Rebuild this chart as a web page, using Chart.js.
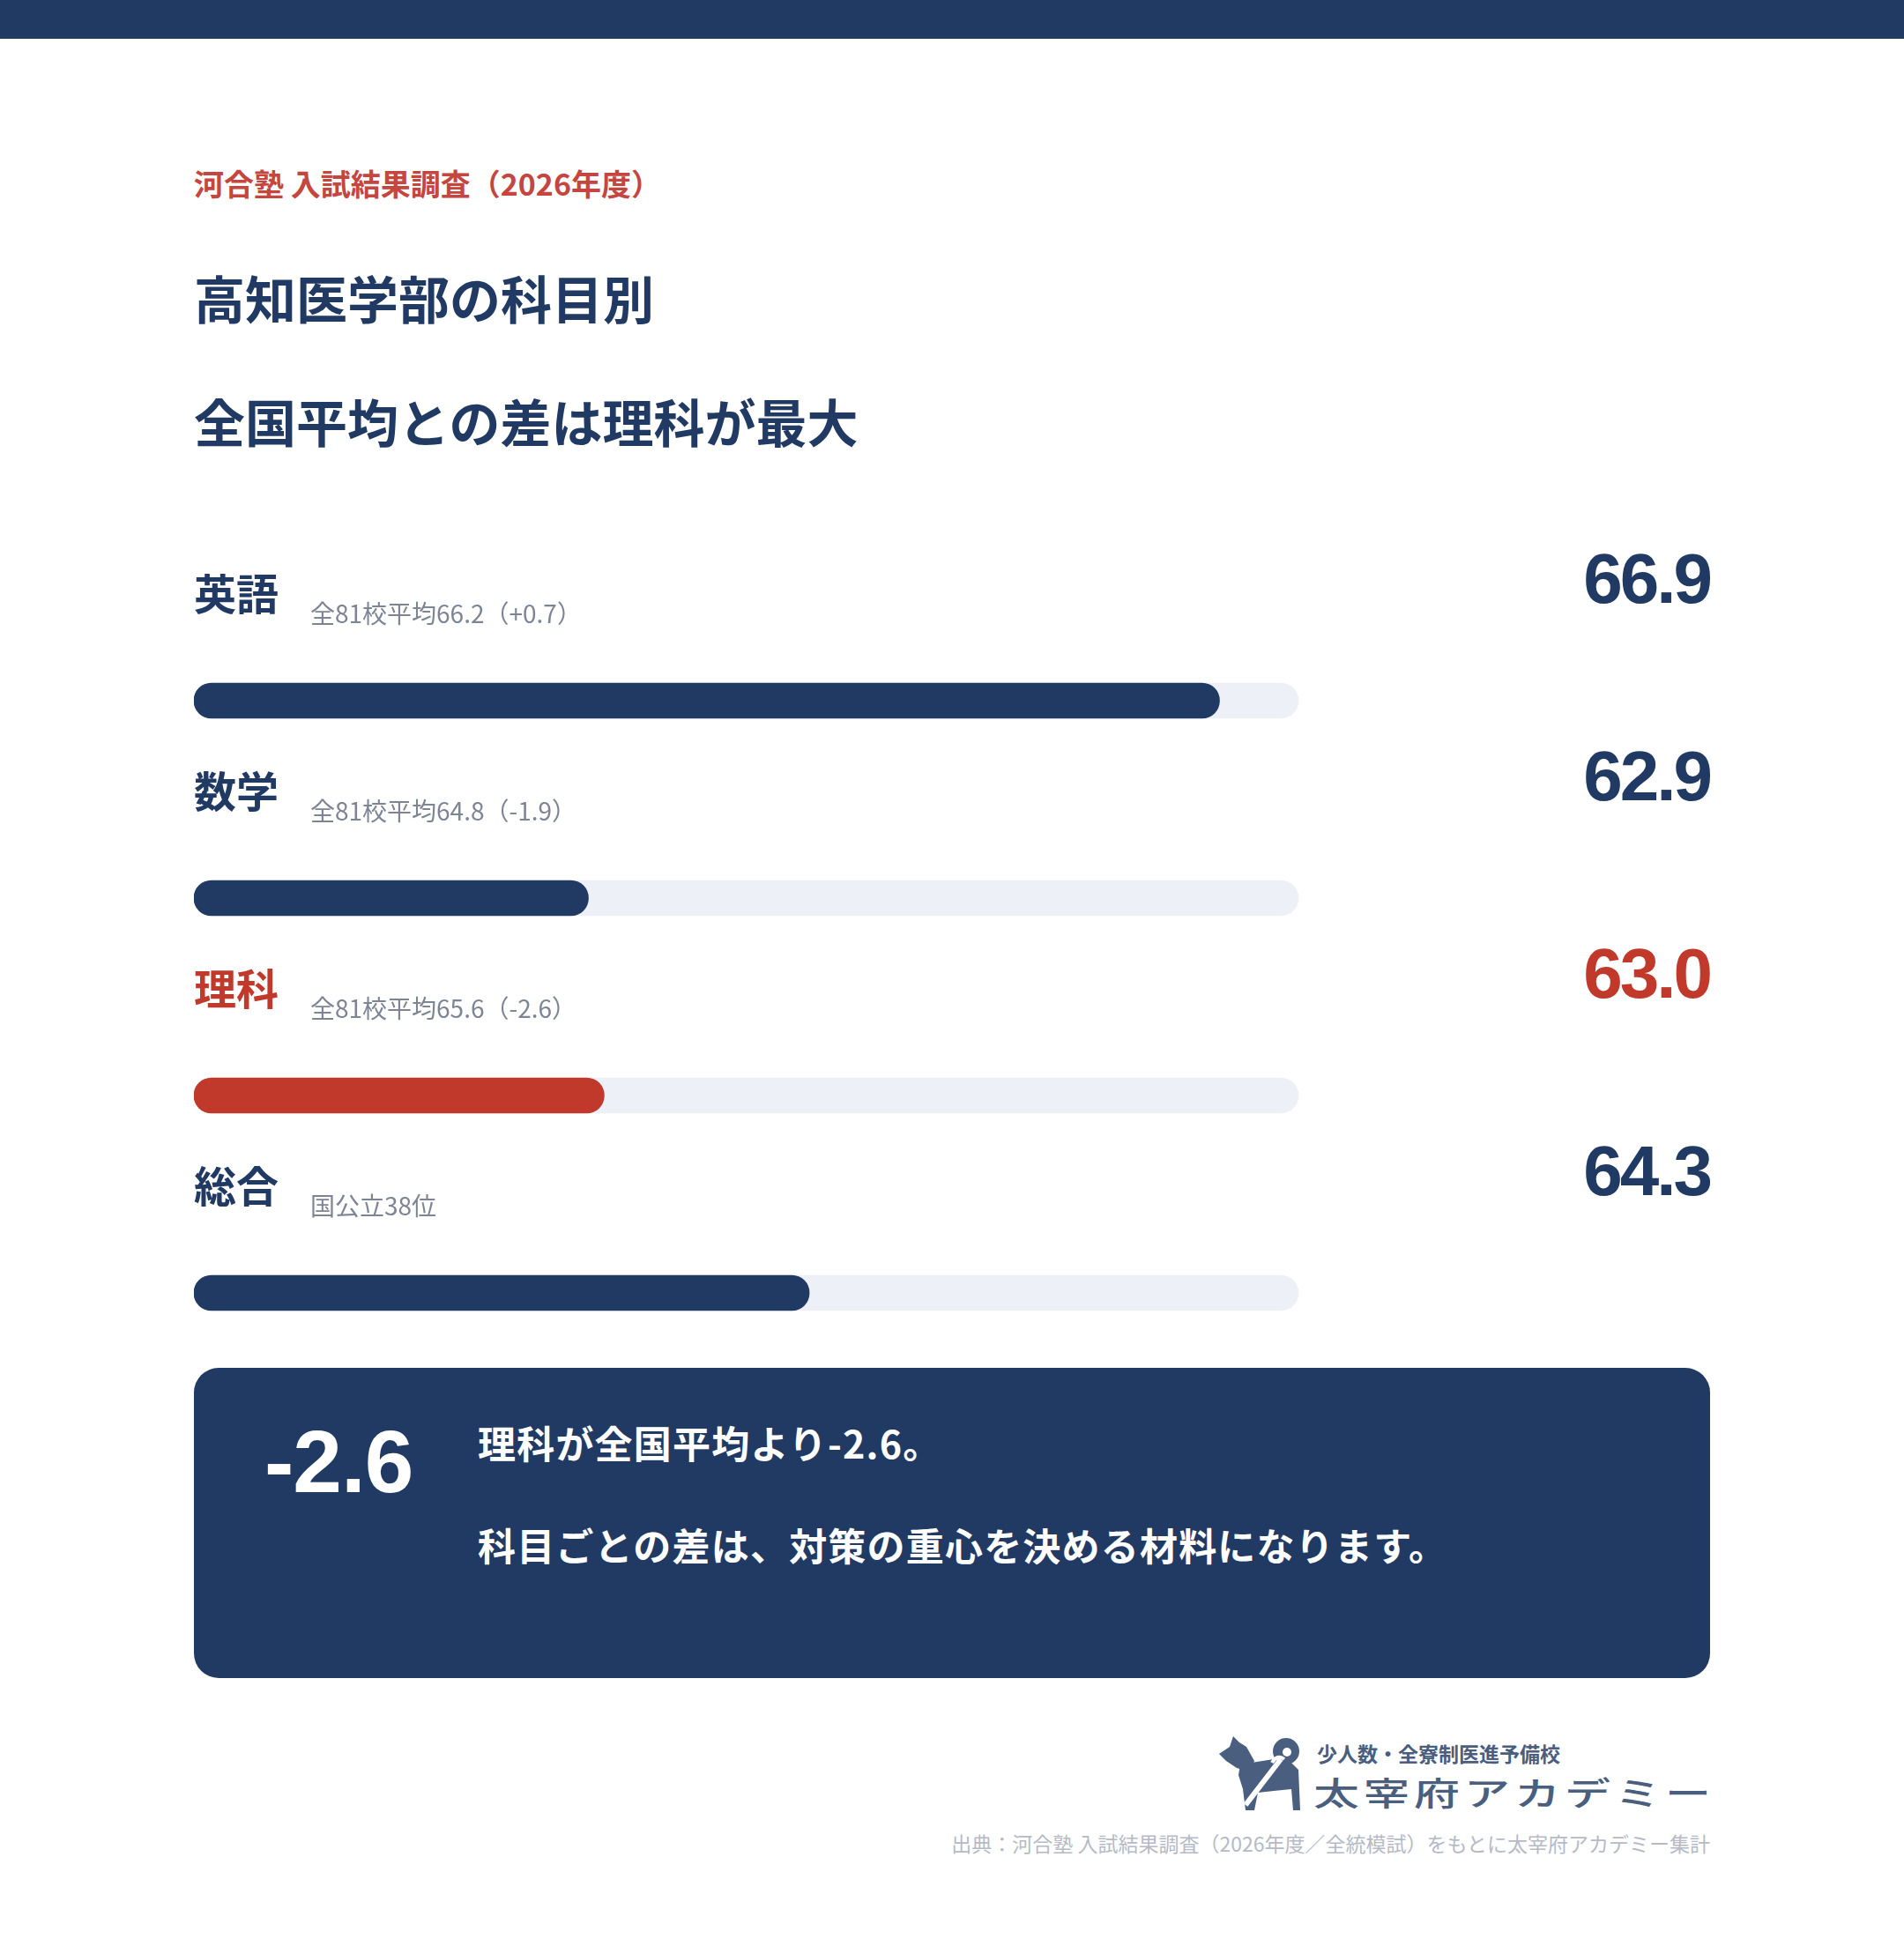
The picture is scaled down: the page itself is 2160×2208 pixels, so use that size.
<!DOCTYPE html>
<html lang="ja">
<head>
<meta charset="utf-8">
<title>高知医学部の科目別</title>
<script src="https://cdn.jsdelivr.net/npm/chart.js@4.4.1/dist/chart.umd.min.js"></script>
<style>
  html, body { margin: 0; padding: 0; background: #ffffff; }
  body { width: 2160px; height: 2208px; position: relative; overflow: hidden;
         font-family: "Noto Sans CJK JP", "Noto Sans", sans-serif; }
  .band { position: absolute; left: 0; top: 0; width: 2160px; height: 44px; background: #213a63; }
  .abs { position: absolute; white-space: nowrap; line-height: 1; }
  .kicker { left: 220px; top: 191px; font-size: 34px; font-weight: 700; color: #c4463f; }
  .title { left: 220px; font-size: 58px; font-weight: 700; color: #213a63; }
  #chartWrap { position: absolute; left: 220px; top: 600px; width: 1720px; height: 900px; }
  .box { position: absolute; left: 220px; top: 1552px; width: 1720px; height: 352px;
         background: #213a63; border-radius: 28px; }
  .box .big { left: 80px; top: 56px; font-family: "Liberation Sans", Arial, sans-serif;
              font-size: 100px; font-weight: 700; color: #fff; letter-spacing: -1px; }
  .box .msg { left: 322px; font-size: 43px; font-weight: 700; color: #fff; letter-spacing: 1.2px; }
  .logo-sub { left: 1494px; top: 1978px; font-size: 23px; font-weight: 700; color: #4a5e80; }
  .logo-main { left: 1490px; top: 2007px; font-size: 52px; font-weight: 500; color: #4a5e80;
               letter-spacing: 5px; transform: scaleY(0.72); transform-origin: 50% 50%; }
  .source { right: 220px; top: 2080px; font-size: 23px; color: #b5bac6; }
  .dog { position: absolute; left: 1383px; top: 1970px; width: 92px; height: 84px; }
</style>
</head>
<body>
<div class="band"></div>
<div class="abs kicker">河合塾 入試結果調査（2026年度）</div>
<div class="abs title" style="top:308px">高知医学部の科目別</div>
<div class="abs title" style="top:448px">全国平均との差は理科が最大</div>

<div id="chartWrap"><canvas id="scoreChart" width="1720" height="900"></canvas></div>

<div class="box">
  <div class="abs big">-2.6</div>
  <div class="abs msg" style="top:63px">理科が全国平均より-2.6。</div>
  <div class="abs msg" style="top:179px">科目ごとの差は、対策の重心を決める材料になります。</div>
</div>

<svg class="dog" viewBox="0 0 92 84">
  <g fill="#4a5e80">
    <polygon points="0,20 12,12 16,0 23,7 31,12 40,28 34,40 20,36 8,28"/>
    <polygon points="24,32 62,26 80,28 90,38 92,84 84,84 82,60 62,62 44,64 40,84 30,84 27,60 22,44"/>
    <circle cx="76" cy="17" r="15"/>
  </g>
  <circle cx="77" cy="18" r="5" fill="#fff"/>
  <line x1="30" y1="78" x2="70" y2="26" stroke="#fff" stroke-width="6"/>
  <path d="M60 30 Q66 20 74 26" stroke="#fff" stroke-width="4" fill="none"/>
</svg>
<div class="abs logo-sub">少人数・全寮制医進予備校</div>
<div class="abs logo-main">太宰府アカデミー</div>
<div class="abs source">出典：河合塾 入試結果調査（2026年度／全統模試）をもとに太宰府アカデミー集計</div>

<script>
// 科目別データ
const subjects = ['英語', '数学', '理科', '総合'];
const scores = [66.9, 62.9, 63.0, 64.3];
const notes = ['全81校平均66.2（+0.7）', '全81校平均64.8（-1.9）', '全81校平均65.6（-2.6）', '国公立38位'];
const highlightIndex = 2; // 理科を強調
const axisMin = 60.4;
const axisMax = 67.4;

const NAVY = '#213a63';
const RED = '#c0392b';
const TRACK = '#edf0f7';

const barColors = subjects.map((s, i) => i === highlightIndex ? RED : NAVY);
const trackData = subjects.map(() => axisMax);

// ラベルと数値を各バーの上に描く
const rowLabels = {
    id: 'rowLabels',
    afterDatasetsDraw(chart) {
        const ctx = chart.ctx;
        const yScale = chart.scales.y;
        const left = chart.chartArea.left;
        const right = chart.width;
        ctx.save();
        subjects.forEach((name, i) => {
            const y = yScale.getPixelForValue(i);
            const color = i === highlightIndex ? RED : NAVY;

            ctx.fillStyle = color;
            ctx.textAlign = 'left';
            ctx.textBaseline = 'middle';
            ctx.font = '700 48px "Noto Sans CJK JP", sans-serif';
            ctx.fillText(name, left, y - 121);

            ctx.fillStyle = '#7d8595';
            ctx.font = '400 28px "Noto Sans CJK JP", sans-serif';
            ctx.fillText(notes[i], left + 132, y - 99);

            ctx.fillStyle = color;
            ctx.textAlign = 'right';
            ctx.textBaseline = 'alphabetic';
            ctx.font = '700 80px "Liberation Sans", Arial, sans-serif';
            ctx.letterSpacing = '-3px';
            ctx.fillText(scores[i].toFixed(1), right, y - 111);
            ctx.letterSpacing = '0px';
        });
        ctx.restore();
    }
};

new Chart(document.getElementById('scoreChart'), {
    type: 'bar',
    data: {
        labels: subjects,
        datasets: [
            { label: '得点', data: scores, base: axisMin, backgroundColor: barColors, barThickness: 40,
              borderRadius: 20, borderSkipped: false, grouped: false, clip: false },
            { label: 'track', data: trackData, base: axisMin, backgroundColor: TRACK, barThickness: 40,
              borderRadius: 20, borderSkipped: false, grouped: false, clip: false }
        ]
    },
    options: {
        indexAxis: 'y',
        responsive: false,
        animation: false,
        layout: { padding: { top: 195, bottom: 33, left: 0, right: 467 } },
        plugins: { legend: { display: false }, tooltip: { enabled: false } },
        scales: {
            x: { type: 'linear', min: axisMin, max: axisMax, display: false },
            y: { type: 'category', offset: false, display: false }
        }
    },
    plugins: [rowLabels]
});
</script>
</body>
</html>
